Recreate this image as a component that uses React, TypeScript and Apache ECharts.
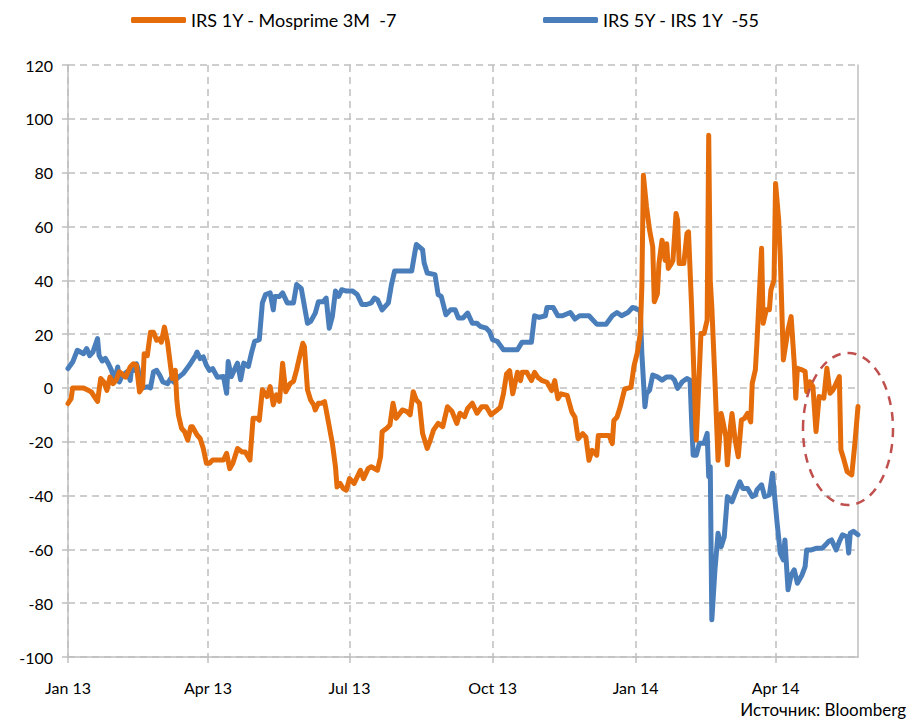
import React, { useEffect, useRef } from "react";
import * as echarts from "echarts";

// Day offsets from 2013-01-01 paired with spread values (bp)
const orangeName = "IRS 1Y - Mosprime 3M  -7";
const blueName = "IRS 5Y - IRS 1Y  -55";

const orangePoints: [number, number][] = [
  [0, -5.8], [2, -4], [3, 0], [6, 0], [10, 0], [13, -0.9], [15, -1.5], [17, -3.3], [19, -5], [21, 3.5],
  [23, 2.2], [25, -0.9], [27, 4], [29, 1.6], [31, 3], [33, 6], [37, 4], [40, 7.8], [42, 9], [44, 8.4],
  [46, -1.5], [48, 0.4], [49, 12.7], [51, 12], [53, 20.7], [55, 20.7], [57, 17.7], [59, 18.3], [60, 17], [62, 22.6],
  [64, 17], [66, 7.8], [67, 3.5], [69, 6.5], [70, -4.6], [71, -10], [73, -15], [75, -16.3], [77, -19.4], [79, -14.4],
  [80, -14.4], [83, -17.5], [85, -18.8], [87, -22.5], [89, -28], [91, -28], [93, -26.8], [96, -26.8], [100, -26.8], [102, -24.3],
  [104, -30], [106, -28], [109, -22.5], [112, -23.8], [114, -23.8], [117, -26.8], [119, -11.3], [122, -11.3], [123, -12], [125, -0.7],
  [128, -3.2], [130, 0.5], [132, -6.3], [134, -2.6], [136, -5], [138, 9.2], [140, -1.4], [143, 1.7], [145, 2.4], [147, 6.7],
  [149, 11.7], [151, 16.6], [152, 15.4], [154, -0.7], [156, -4.5], [158, -6.3], [159, -8.2], [161, -5.7], [163, -5.7], [165, -5.1],
  [167, -11.3], [170, -20.6], [172, -29.3], [173, -36.8], [175, -35.5], [177, -37.4], [179, -38], [181, -33.7], [184, -35.5], [188, -30.6],
  [190, -33.7], [193, -30], [195, -29.3], [199, -30.6], [201, -25.6], [202, -16.3], [205, -15], [207, -13.8], [209, -5.7], [211, -11.3],
  [215, -8.2], [218, -8.8], [220, -10], [222, -1.4], [224, -4.5], [226, -5.7], [228, -16.9], [231, -22.5], [233, -19.4], [235, -15.7],
  [238, -13.2], [241, -14.4], [244, -7], [247, -8.8], [250, -13.2], [252, -9.4], [255, -10.7], [257, -7.6], [260, -5.7], [263, -9.4],
  [266, -7], [269, -7], [272, -10], [276, -8.2], [278, -7.2], [280, -2.2], [282, 5.2], [284, 6.4], [286, -2.2], [289, 5.8],
  [291, 2.7], [292, 5.8], [295, 5.8], [298, 2.7], [300, 5.8], [302, 4], [305, 2.7], [308, 2.1], [311, -1], [313, 2.7],
  [315, -4], [317, -2.2], [321, -2.8], [324, -9], [326, -10.9], [328, -18.9], [331, -17], [333, -18.3], [335, -26.9], [337, -23.2],
  [340, -25], [341, -17.7], [344, -17.7], [348, -17.7], [350, -20.7], [351, -12.1], [353, -10.9], [355, -7.2], [358, -0.4], [362, 0.2],
  [364, 8.3], [366, 12.8], [368, 20.2], [369, 37.6], [370, 79], [372, 67.3], [374, 58.6], [376, 52.4], [377, 32], [379, 35],
  [380, 46.2], [382, 54.9], [384, 47.4], [385, 53.6], [386, 44.4], [388, 46.2], [389, 47.4], [391, 64.8], [392, 62.3], [393, 46.2],
  [396, 46.2], [398, 57.4], [399, 58], [401, 30.1], [403, -3.3], [404, -19.4], [405, -7], [407, 20.2], [409, 20.2], [411, 25.2],
  [412, 93.9], [413, 40], [414, 30.1], [416, 2.9], [418, -26.9], [420, -9.5], [421, -12], [423, -18.1], [424, -28.6], [426, -14.4],
  [427, -9.5], [429, -19.4], [431, -25.6], [433, -12], [435, -11.3], [437, -9.5], [439, -12.6], [440, 1.7], [442, 6.7], [443, 16.6],
  [446, 51.9], [447, 24], [449, 29], [451, 29], [452, 36.4], [454, 40.1], [455, 76], [457, 62.4], [458, 48.8], [460, 10.4],
  [461, 14.1], [463, 21.6], [465, 26.5], [467, 9.2], [468, -3.8], [469, 7.3], [472, 6.7], [474, 6.1], [475, -1.4], [477, 2.3],
  [479, 0.5], [481, -16.2], [483, -3.2], [486, -3.8], [488, 7.3], [490, -2], [492, -0.7], [496, 4.2], [497, -23], [499, -26.8],
  [501, -31.1], [504, -32.3], [506, -20.6], [508, -6.9],
];

const bluePoints: [number, number][] = [
  [0, 7.2], [3, 9.6], [6, 14], [10, 12.7], [12, 14.6], [14, 12], [16, 13.3], [19, 18.3], [20, 12], [22, 10],
  [24, 11], [26, 9], [28, 6.5], [30, 2.8], [32, 7.8], [33, 2.2], [35, 4.7], [38, 6], [40, 2.8], [41, 8],
  [43, 6.5], [44, 9], [45, 7.2], [47, -0.2], [48, 0], [51, 0.4], [53, 0], [55, 6], [57, 6.5], [59, 4.7],
  [61, 2.2], [64, 1.6], [66, 3.5], [68, 2.2], [70, 3.5], [74, 5.3], [78, 8.4], [82, 12], [83, 13.3], [85, 10.9],
  [87, 11.5], [89, 8.4], [91, 6.5], [93, 7.2], [96, 4], [100, 4.2], [102, -2], [103, 9.8], [105, 4.2], [109, 9.2],
  [111, 3], [113, 9.2], [116, 8], [118, 13], [120, 17.3], [123, 17.9], [125, 31.6], [127, 34.7], [130, 35.3], [132, 29],
  [133, 34], [136, 34], [138, 35.3], [141, 31.6], [145, 31.6], [147, 38.4], [150, 37], [154, 24], [156, 24.7], [159, 27.8],
  [161, 32], [164, 32], [166, 33.4], [168, 22.2], [170, 26.6], [172, 36], [174, 34], [176, 36.5], [179, 36], [183, 36],
  [186, 34.7], [189, 31], [192, 31], [195, 31.6], [197, 33.4], [199, 32.8], [202, 29], [206, 31.6], [208, 38.4], [210, 43.4],
  [215, 43.4], [221, 43.4], [223, 50.2], [224, 53.3], [228, 51.4], [229, 46.5], [231, 42.7], [236, 42.1], [238, 34.7], [240, 34],
  [243, 27.2], [246, 29], [249, 29], [251, 26], [254, 26], [257, 27.8], [260, 24], [263, 24], [265, 22.9], [269, 22.2],
  [271, 21], [273, 17.9], [276, 17.3], [280, 14.2], [284, 14.2], [289, 14.2], [292, 17], [298, 17], [300, 26.8], [303, 26.2],
  [307, 26.8], [308, 29.9], [312, 29.9], [315, 26.8], [318, 26.8], [323, 28], [326, 25.6], [329, 26.8], [335, 26.8], [340, 23.7],
  [346, 23.7], [350, 26.8], [353, 28], [356, 26.8], [360, 28], [363, 29.9], [366, 29.3], [368, 28.6], [369, 12.8], [371, -7],
  [372, -2.1], [374, -0.8], [376, 4.8], [379, 4.1], [382, 2.9], [385, 4.1], [388, 4.1], [390, 2.9], [392, -0.2], [395, 2.3],
  [398, 3.5], [400, 2.9], [401, -12], [402, -25], [404, -25], [406, -20.6], [409, -20.6], [411, -16.9], [412, -33], [413, -29.3],
  [414, -86.2], [416, -67.7], [418, -54], [420, -59], [422, -55.3], [424, -40.4], [427, -42.3], [429, -39.2], [432, -34.9], [434, -37.4],
  [437, -37.4], [440, -40.4], [442, -39.8], [443, -37.9], [446, -36], [448, -40.4], [451, -39.8], [453, -31.7], [454, -37.9], [456, -50.3],
  [458, -61.4], [460, -63.9], [461, -56.5], [463, -75], [465, -69.5], [467, -67.6], [469, -72.6], [472, -69.5], [474, -66.4], [475, -60.2],
  [478, -60.2], [481, -59.6], [485, -59.6], [487, -58.4], [489, -57.1], [491, -56.5], [494, -60.2], [496, -57.1], [498, -54.6], [501, -55.3],
  [502, -61.4], [503, -54], [505, -53.3], [508, -54.6],
];

const tickDates = ["2013-01-01", "2013-04-01", "2013-07-01", "2013-10-01", "2014-01-01", "2014-04-01"];
const tickLabels = ["Jan 13", "Apr 13", "Jul 13", "Oct 13", "Jan 14", "Apr 14"];
const axisStartDay = 0;
const axisEndDay = 508;
const yTicks = { min: -100, max: 120, interval: 20 };

const FONT = "Lato, 'Open Sans', sans-serif";

function dayToTime(d: number): number {
  return new Date(2013, 0, 1 + d).getTime();
}
function parseDate(s: string): number {
  const [y, m, d] = s.split("-").map(Number);
  return new Date(y, m - 1, d).getTime();
}

export default function App() {
  const ref = useRef<HTMLDivElement>(null);
  useEffect(() => {
    if (!ref.current) return;
    const chart = echarts.init(ref.current, null, { renderer: "svg" });
    const tickTimes = tickDates.map(parseDate);
    const gridColor = "#BFBFBF";
    const legendBase = {
      top: 11,
      padding: 0,
      itemWidth: 55,
      itemHeight: 6,
      itemGap: 4,
      textStyle: { fontFamily: FONT, fontSize: 18, color: "#000", padding: [0, 0, 0, 0] },
      selectedMode: false,
    };
    chart.setOption({
      animation: false,
      backgroundColor: "#ffffff",
      grid: { left: 68, right: 51, top: 65, bottom: 67, containLabel: false },
      legend: [
        { ...legendBase, data: [{ name: orangeName, icon: "roundRect" }], left: 131 },
        { ...legendBase, data: [{ name: blueName, icon: "roundRect" }], left: 543 },
      ],
      xAxis: {
        type: "value",
        min: dayToTime(axisStartDay),
        max: dayToTime(axisEndDay),
        axisLine: { onZero: false, lineStyle: { color: gridColor, width: 1.5 } },
        axisTick: { show: true, customValues: tickTimes, length: 6, lineStyle: { color: gridColor, width: 1.5 } },
        axisLabel: {
          customValues: tickTimes,
          margin: 22,
          fontFamily: FONT,
          fontSize: 16,
          color: "#000",
          formatter: (v: number) => {
            let best = 0;
            let bd = Infinity;
            tickTimes.forEach((t, i) => {
              const dd = Math.abs(t - v);
              if (dd < bd) { bd = dd; best = i; }
            });
            return tickLabels[best];
          },
        },
        splitLine: { show: true, lineStyle: { color: gridColor, width: 1.5, type: [7, 5] } },
      },
      yAxis: [
        {
          type: "value",
          min: yTicks.min,
          max: yTicks.max,
          interval: yTicks.interval,
          axisLine: { show: true, onZero: false, lineStyle: { color: gridColor, width: 1.5 } },
          axisTick: { show: true, length: 6, lineStyle: { color: gridColor, width: 1.5 } },
          axisLabel: { fontFamily: FONT, fontSize: 16, color: "#000", margin: 15 },
          splitLine: { show: true, lineStyle: { color: gridColor, width: 1.5, type: [7, 5] } },
        },
        {
          type: "value",
          position: "right",
          min: yTicks.min,
          max: yTicks.max,
          interval: yTicks.interval,
          axisLine: { show: true, onZero: false, lineStyle: { color: gridColor, width: 1.5 } },
          axisTick: { show: false },
          axisLabel: { show: false },
          splitLine: { show: false },
        },
      ],
      series: [
        {
          name: orangeName,
          type: "line",
          data: orangePoints.map(([d, v]) => [dayToTime(d), v]),
          showSymbol: false,
          symbol: "none",
          color: "#E46C0A",
          lineStyle: { color: "#E46C0A", width: 5, cap: "round", join: "round" },
          z: 3,
        },
        {
          name: blueName,
          type: "line",
          data: bluePoints.map(([d, v]) => [dayToTime(d), v]),
          showSymbol: false,
          symbol: "none",
          color: "#4A7EBB",
          lineStyle: { color: "#4A7EBB", width: 5, cap: "round", join: "round" },
          z: 2,
        },
      ],
      graphic: [
        {
          type: "ellipse",
          shape: { cx: 848, cy: 429, rx: 45, ry: 76 },
          style: { fill: "none", stroke: "#C0504D", lineWidth: 2.5, lineDash: [9, 7] },
          z: 10,
        },
        {
          type: "text",
          right: 3,
          top: 701,
          style: { text: "Источник: Bloomberg", fontFamily: FONT, fontSize: 17, fill: "#000" },
        },
      ],
    });
    return () => chart.dispose();
  }, []);
  return (
    <div
      ref={ref}
      style={{ position: "fixed", left: 0, top: 0, width: 909, height: 724, background: "#fff" }}
    />
  );
}
